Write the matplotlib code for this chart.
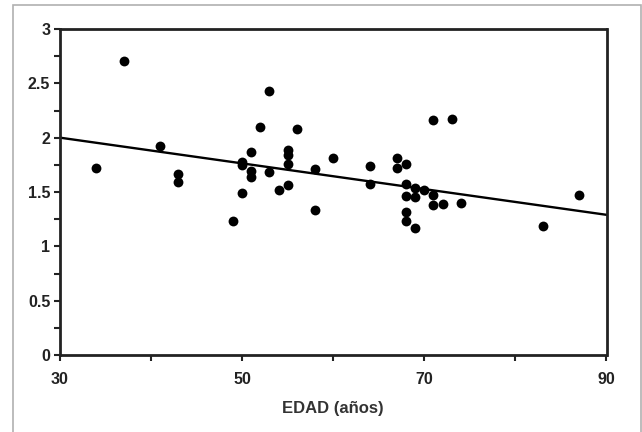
import matplotlib
matplotlib.use("Agg")
import matplotlib.pyplot as plt
from matplotlib.patches import Rectangle
from matplotlib.ticker import MultipleLocator, FixedLocator

plt.rcParams['font.family'] = ['Liberation Sans', 'DejaVu Sans']

edad = [34, 37, 41, 43, 43, 49, 50, 50, 50, 51, 51, 51, 52, 53, 53, 54,
        55, 55, 55, 55, 56, 58, 58, 60, 64, 64, 67, 67, 68, 68, 68, 68, 68,
        69, 69, 69, 70, 71, 71, 71, 72, 73, 74, 83, 87]
valor = [1.72, 2.71, 1.92, 1.67, 1.59, 1.23, 1.78, 1.75, 1.49, 1.87, 1.69, 1.64,
         2.10, 2.43, 1.68, 1.52, 1.89, 1.84, 1.76, 1.56, 2.08, 1.71, 1.33, 1.81,
         1.74, 1.57, 1.81, 1.72, 1.76, 1.57, 1.46, 1.32, 1.23, 1.54, 1.45, 1.17,
         1.52, 2.16, 1.47, 1.38, 1.39, 2.17, 1.40, 1.19, 1.47]
linea_x = [30, 90]
linea_y = [2.00, 1.29]

x_ticks_major = [30, 50, 70, 90]
x_tick_labels = ['30', '50', '70', '90']
y_ticks = [0, 0.5, 1, 1.5, 2, 2.5, 3]
y_tick_labels = ['0', '0.5', '1', '1.5', '2', '2.5', '3']

W, H = 642, 432
fig = plt.figure(figsize=(W / 100, H / 100), dpi=100)
fig.patch.set_facecolor('white')

# outer light frame
fig.patches.append(Rectangle((13 / W, -0.05), (640.5 - 13) / W, 1.05 - 5 / H,
                             transform=fig.transFigure, fill=False,
                             edgecolor='#b0b0b0', linewidth=1.2))

ax = fig.add_axes([60 / W, (H - 355) / H, 546.5 / W, 326 / H])
ax.scatter(edad, valor, s=50, color='black', zorder=3, linewidths=0)
ax.plot(linea_x, linea_y, color='black', linewidth=1.7, zorder=2)

ax.set_xlim(30, 90)
ax.set_ylim(0, 3)
ax.xaxis.set_major_locator(FixedLocator(x_ticks_major))
ax.set_xticklabels(x_tick_labels)
ax.xaxis.set_minor_locator(MultipleLocator(10))
ax.set_yticks(y_ticks)
ax.set_yticklabels(y_tick_labels)
ax.yaxis.set_minor_locator(MultipleLocator(0.25))

for sp in ax.spines.values():
    sp.set_linewidth(2.0)
    sp.set_color('#222222')

ax.tick_params(axis='both', which='both', direction='out', color='#222222',
               width=1.5)
ax.tick_params(axis='both', which='major', length=4, labelsize=11.5)
ax.tick_params(axis='both', which='minor', length=4)
ax.tick_params(axis='x', pad=8)
ax.tick_params(axis='y', pad=3)
for lab in ax.get_xticklabels() + ax.get_yticklabels():
    lab.set_fontweight('bold')
    lab.set_color('#222222')

ax.set_xlabel('EDAD (años)', fontsize=12, fontweight='bold', color='#333333',
              labelpad=10)

fig.savefig('out.png', dpi=100, facecolor='white')
